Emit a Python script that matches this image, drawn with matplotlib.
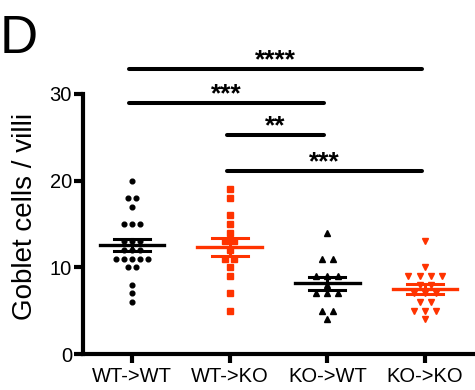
import matplotlib
matplotlib.use("Agg")
import matplotlib.pyplot as plt
import numpy as np
from collections import Counter

plt.rcParams['font.family'] = ['Liberation Sans', 'DejaVu Sans']

groups = ["WT->WT", "WT->KO", "KO->WT", "KO->KO"]
wt_wt = [20, 18, 18, 17, 15, 15, 15, 13, 13, 13, 12, 12, 12, 11, 11, 11, 11, 11, 10, 10, 8, 7, 6]
wt_ko = [19, 18, 16, 15, 14, 13, 13, 12, 11, 11, 10, 9, 7, 5]
ko_wt = [14, 11, 11, 9, 9, 9, 8, 7, 7, 7, 5, 5, 4]
ko_ko = [13, 10, 9, 9, 9, 9, 8, 8, 7, 7, 7, 6, 6, 5, 5, 5, 4]
data = [wt_wt, wt_ko, ko_wt, ko_ko]

# significance bars: (from group, to group, label, height)
sig_from = [0, 0, 1, 1]
sig_to = [3, 2, 2, 3]
sig_text = ["****", "***", "**", "***"]
sig_y = [32.9, 29.0, 25.3, 21.1]

RED = "#ff3300"
colors = ["black", RED, "black", RED]
markers = ["o", "s", "^", "v"]
msizes = [3.4, 4.4, 4.6, 5.0]
steps = [0.083, 0.088, 0.113, 0.115]


def swarm(vals, step):
    counts = Counter(vals)
    seen = {}
    xs = []
    for v in vals:
        n = counts[v]
        i = seen.get(v, 0)
        seen[v] = i + 1
        xs.append((i - (n - 1) / 2) * step)
    return np.array(xs)


fig = plt.figure(figsize=(4.75, 3.9), dpi=100)
ax = fig.add_axes([83 / 475, 36 / 390, 391 / 475, 0.756])

for k, vals in enumerate(data):
    vals = np.array(vals, dtype=float)
    xs = k + swarm(list(vals), steps[k])
    ax.plot(xs, vals, linestyle="none", marker=markers[k], ms=msizes[k],
            color=colors[k], mec=colors[k], zorder=2)
    m = vals.mean()
    sem = vals.std(ddof=1) / np.sqrt(len(vals))
    ax.plot([k - 0.33, k + 0.33], [m, m], color=colors[k], lw=2.4, zorder=3)
    ax.plot([k - 0.185, k + 0.185], [m + sem, m + sem], color=colors[k], lw=2.2, zorder=3)
    ax.plot([k - 0.185, k + 0.185], [m - sem, m - sem], color=colors[k], lw=2.2, zorder=3)
    ax.plot([k, k], [m - sem, m + sem], color=colors[k], lw=2.2, zorder=3)

for a, b, t, y in zip(sig_from, sig_to, sig_text, sig_y):
    ax.plot([a - 0.03, b - 0.03], [y, y], color="black", lw=2.9,
            solid_capstyle="round", clip_on=False)
    ax.text((a + b) / 2 - 0.03, y + 0.15, t, ha="center", va="baseline",
            fontsize=19, fontweight="bold")

ax.set_xlim(-0.5, 3.5)
ax.set_ylim(0, 34)
ax.set_xticks(range(4))
ax.set_xticklabels(groups)
ax.set_yticks([0, 10, 20, 30])
for s in ["top", "right"]:
    ax.spines[s].set_visible(False)
ax.spines["left"].set_bounds(0, 30)
for s in ["left", "bottom"]:
    ax.spines[s].set_linewidth(3)
ax.tick_params(width=3, length=6.5, labelsize=14.5, pad=1.5)
ax.tick_params(axis="x", pad=3)

fig.text(25 / 475, 1 - 216 / 390, "Goblet cells / villi", rotation=90,
         ha="center", va="center", fontsize=20)
fig.text(0.0, 1 - 53 / 390, "D", fontsize=38, va="baseline")

fig.savefig("out.png", dpi=100)
